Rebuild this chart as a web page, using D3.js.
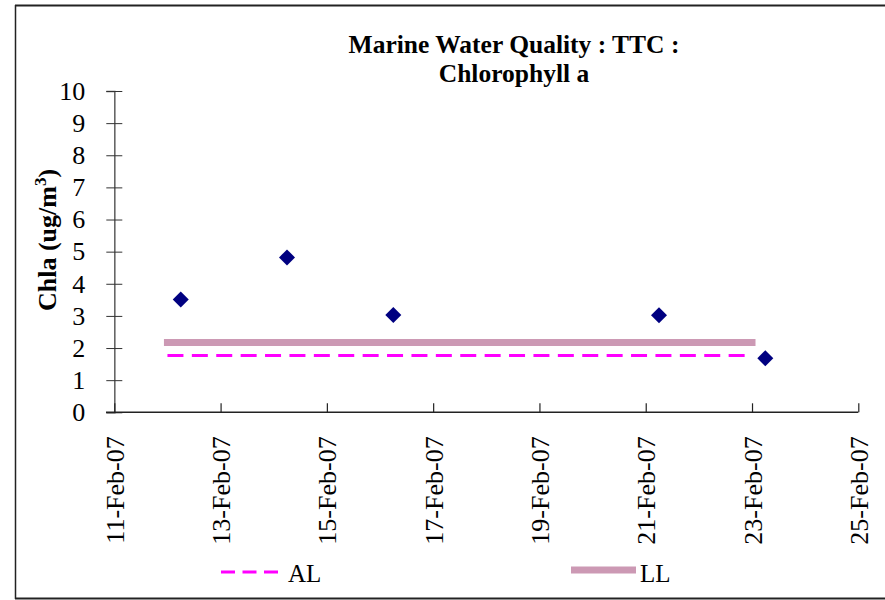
<!DOCTYPE html>
<html>
<head>
<meta charset="utf-8">
<script src="https://cdn.jsdelivr.net/npm/d3@7"></script>
<style>
  html, body { margin: 0; padding: 0; background: #fff; }
  svg { display: block; font-family: "Liberation Serif", "Times New Roman", serif; }
</style>
</head>
<body>
<svg id="chart" width="885" height="600"></svg>
<script>
// Sampling dates and chlorophyll-a readings (ug/m3)
const sampleDates = ["2007-02-12T06:00", "2007-02-14T06:00", "2007-02-16T06:00", "2007-02-21T06:00", "2007-02-23T06:00"];
const chlaValues = [3.51, 4.82, 3.03, 3.02, 1.68];

// Reference limits: AL (dashed) and LL (solid band), spanning the survey period
const limitDates = ["2007-02-12T00:00", "2007-02-23T00:00"];
const alValue = 1.77;
const llValue = 2.17;

// Axis ticks
const xTickDates = ["2007-02-11", "2007-02-13", "2007-02-15", "2007-02-17", "2007-02-19", "2007-02-21", "2007-02-23", "2007-02-25"];
const yTickValues = [0, 1, 2, 3, 4, 5, 6, 7, 8, 9, 10];

const parse = d3.utcParse("%Y-%m-%dT%H:%M");
const parseDay = d3.utcParse("%Y-%m-%d");
const fmt = d3.utcFormat("%-d-%b-%y");
const serif = "'Liberation Serif', 'Times New Roman', serif";

const svg = d3.select("#chart");

// Outer frame
svg.append("line").attr("x1", 15).attr("x2", 885).attr("y1", 5.5).attr("y2", 5.5)
  .attr("stroke", "#222").attr("stroke-width", 2);
svg.append("line").attr("x1", 15).attr("x2", 885).attr("y1", 598.5).attr("y2", 598.5)
  .attr("stroke", "#222").attr("stroke-width", 2);
svg.append("line").attr("x1", 15.5).attr("x2", 15.5).attr("y1", 5).attr("y2", 599)
  .attr("stroke", "#222").attr("stroke-width", 1.5);

const x = d3.scaleUtc()
  .domain([parseDay(xTickDates[0]), parseDay(xTickDates[xTickDates.length - 1])])
  .range([114.3, 858.3]);
const y = d3.scaleLinear().domain([0, 10]).range([412.3, 91]);

// Y axis with ticks crossing the axis line
const yAxis = svg.append("g").attr("transform", "translate(114.3,0)")
  .call(d3.axisLeft(y).tickValues(yTickValues).tickSize(8).tickPadding(21).tickFormat(d3.format("d")));
yAxis.select(".domain").attr("stroke", "#666").attr("stroke-width", 1.6);
yAxis.selectAll(".tick line").attr("x1", -8).attr("x2", 8).attr("stroke", "#333");
yAxis.selectAll(".tick text")
  .attr("font-family", serif).attr("font-size", 26).attr("fill", "#000");

// X axis with inward ticks and vertical date labels
const xAxis = svg.append("g").attr("transform", "translate(0,412.3)")
  .call(d3.axisBottom(x).tickValues(xTickDates.map(parseDay)).tickSize(-9).tickFormat(fmt));
xAxis.select(".domain").attr("stroke", "#222").attr("stroke-width", 1.5)
  .attr("d", "M106,0H858.3");
xAxis.selectAll(".tick line").attr("stroke", "#222").attr("stroke-width", 1.2);
xAxis.selectAll(".tick text")
  .attr("font-family", serif).attr("font-size", 26).attr("fill", "#000")
  .attr("text-anchor", "end")
  .attr("transform", "rotate(-90)")
  .attr("x", -24).attr("y", 0).attr("dy", "0.35em");

// LL band
const limitX = limitDates.map(parse);
svg.append("line")
  .attr("x1", x(limitX[0])).attr("x2", x(limitX[1]))
  .attr("y1", y(llValue)).attr("y2", y(llValue))
  .attr("stroke", "#cc99b4").attr("stroke-width", 7).attr("stroke-linecap", "square");

// AL dashed line
svg.append("line")
  .attr("x1", x(limitX[0])).attr("x2", x(limitX[1]))
  .attr("y1", y(alValue)).attr("y2", y(alValue))
  .attr("stroke", "#ff00ff").attr("stroke-width", 3).attr("stroke-dasharray", "16,8.4");

// Data markers (diamonds)
const diamond = "M0,-8L8,0L0,8L-8,0Z";
svg.append("g").selectAll("path")
  .data(sampleDates.map((d, i) => ({ date: parse(d), value: chlaValues[i] })))
  .join("path")
  .attr("d", diamond)
  .attr("transform", d => `translate(${x(d.date)},${y(d.value)})`)
  .attr("fill", "#000080");

// Title
const title = svg.append("text").attr("text-anchor", "middle")
  .attr("font-family", serif).attr("font-weight", "bold").attr("font-size", 25.5);
title.append("tspan").attr("x", 514).attr("y", 53).text("Marine Water Quality : TTC :");
title.append("tspan").attr("x", 514).attr("y", 82).text("Chlorophyll a");

// Y axis label
const yLabel = svg.append("text")
  .attr("transform", "translate(56,240) rotate(-90)")
  .attr("text-anchor", "middle")
  .attr("font-family", serif).attr("font-weight", "bold").attr("font-size", 26);
yLabel.append("tspan").text("Chla (ug/m");
yLabel.append("tspan").attr("font-size", 17).attr("dy", -10).text("3");
yLabel.append("tspan").attr("dy", 10).text(")");

// Legend
const legend = svg.append("g").attr("font-family", serif).attr("font-size", 25);
legend.append("line").attr("x1", 221).attr("x2", 278).attr("y1", 572).attr("y2", 572)
  .attr("stroke", "#ff00ff").attr("stroke-width", 3).attr("stroke-dasharray", "14,7.5");
legend.append("text").attr("x", 288).attr("y", 582).text("AL");
legend.append("line").attr("x1", 571).attr("x2", 636).attr("y1", 570).attr("y2", 570)
  .attr("stroke", "#cc99b4").attr("stroke-width", 7);
legend.append("text").attr("x", 640).attr("y", 582).text("LL");
</script>
</body>
</html>
